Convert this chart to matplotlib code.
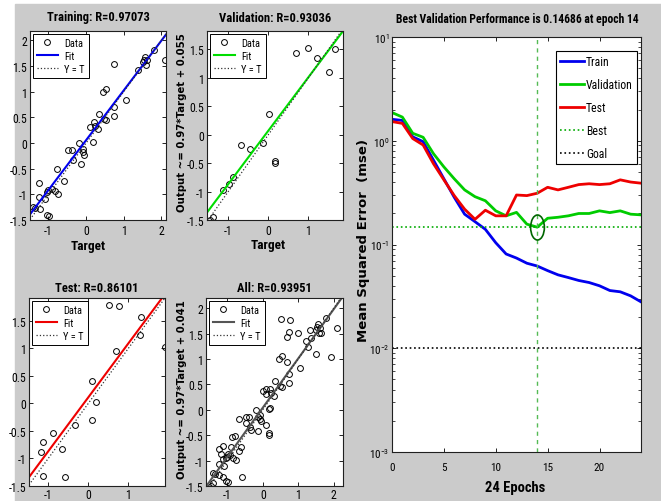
# Графики регрессии и производительности обучения сети (в стиле MATLAB)
import numpy as np
import matplotlib.pyplot as plt
from matplotlib import font_manager
from matplotlib.font_manager import FontProperties
from matplotlib.path import Path
from matplotlib.transforms import Affine2D


def _weight(w):
    if isinstance(w, str):
        return font_manager.weight_dict.get(w, 400)
    return w


def _is_narrow(f):
    st = f.stretch
    if 'Narrow' in f.name or 'Condensed' in f.name:
        return True
    return (isinstance(st, int) and st < 500) or st in ('condensed', 'semi-condensed',
                                                        'extra-condensed')


PREF = ['Liberation Sans Narrow', 'Arial Narrow', 'Roboto Condensed', 'Open Sans Condensed',
        'Noto Sans Condensed', 'Noto Sans', 'DejaVu Sans']


def _rank(f):
    for i, p in enumerate(PREF):
        if f.name.startswith(p):
            return i
    return len(PREF)


# Поиск файла узкого шрифта нужной насыщенности
def find_narrow(bold):
    cands = []
    for f in font_manager.fontManager.ttflist:
        if not _is_narrow(f) or f.style != 'normal':
            continue
        w = _weight(f.weight)
        if bold and not (600 <= w <= 750):
            continue
        if not bold and not (380 <= w <= 450):
            continue
        cands.append(f)
    if not cands:
        return None
    cands.sort(key=_rank)
    return cands[0].fname


NARROW_R = find_narrow(False)
NARROW_B = find_narrow(True)


def nfont(size):
    if NARROW_R:
        return FontProperties(fname=NARROW_R, size=size)
    return FontProperties(family='Liberation Sans', size=size * 0.8)


def bfont(size):
    if NARROW_B:
        return FontProperties(fname=NARROW_B, size=size)
    return FontProperties(family='Liberation Sans', size=size * 0.76, weight='bold')


# Данные: обучающая выборка
train_target = [-1.40, -1.36, -1.24, -1.24, -1.22, -1.09, -1.05, -1.00, -1.05, -0.99,
                -0.91, -0.83, -0.76, -0.78, -0.60, -0.47, -0.38, -0.36, -0.19, -0.13,
                -0.09, -0.05, -0.07, 0.18, 0.09, 0.21, 0.24, 0.31, 0.34, 0.48,
                0.46, 0.53, 0.53, 0.73, 0.74, 0.74, 1.06, 1.37, 1.50, 1.54,
                1.55, 1.59, 1.61, 1.79, 2.09]
train_output = [-1.25, -1.27, -0.78, -1.06, -1.28, -1.10, -0.95, -0.92, -1.41, -1.42,
                -0.89, -0.94, -0.99, -0.51, -0.74, -0.14, -0.14, -0.33, 0.00, -0.41,
                -0.18, -0.23, -0.11, 0.02, 0.31, 0.40, 0.34, 0.28, 0.56, 0.47,
                0.99, 1.05, 0.44, 0.53, 0.70, 1.53, 0.83, 1.42, 1.58, 1.62,
                1.68, 1.51, 1.61, 1.81, 1.61]

# Проверочная выборка
val_target = [-1.45, -1.39, -1.13, -0.97, -0.89, -0.68, -0.47, -0.13, 0.02, 0.17,
              0.17, 0.69, 0.99, 1.21, 1.51, 1.65]
val_output = [-1.50, -1.44, -0.97, -0.87, -0.74, -0.18, -0.26, -0.14, 0.36, -0.46,
              -0.50, 1.44, 1.52, 1.35, 1.10, 1.51]

# Тестовая выборка
test_target = [-1.18, -1.12, -1.13, -0.88, -0.66, -0.59, -0.33, 0.10, 0.10, 0.20,
               0.52, 0.77, 0.68, 1.28, 1.32, 1.92]
test_output = [-0.88, -0.71, -1.32, -0.53, -0.82, -1.33, -0.39, 0.41, -0.30, 0.03,
               1.78, 1.77, 0.95, 1.24, 1.57, 1.03]

# Все данные
all_target = train_target + val_target + test_target
all_output = train_output + val_output + test_output

# Коэффициенты линий регрессии (наклон, смещение)
fit_train = (0.97, 0.055)
fit_val = (0.94, 0.07)
fit_test = (0.98, 0.11)
fit_all = (0.97, 0.041)

# Производительность по эпохам
epochs = list(range(25))
perf_train = [1.61, 1.57, 1.09, 0.98, 0.65, 0.43, 0.285, 0.196, 0.166, 0.14,
              0.104, 0.081, 0.074, 0.066, 0.062, 0.056, 0.051, 0.048, 0.045, 0.043,
              0.040, 0.036, 0.035, 0.032, 0.028]
perf_val = [1.87, 1.69, 1.18, 1.08, 0.75, 0.56, 0.43, 0.336, 0.289, 0.264,
            0.211, 0.189, 0.204, 0.157, 0.14686, 0.179, 0.183, 0.189, 0.199, 0.199,
            0.211, 0.203, 0.211, 0.196, 0.193]
perf_test = [1.53, 1.47, 1.05, 0.91, 0.60, 0.42, 0.296, 0.219, 0.175, 0.214,
             0.189, 0.189, 0.30, 0.296, 0.312, 0.356, 0.336, 0.356, 0.378, 0.385,
             0.378, 0.385, 0.42, 0.40, 0.39]
best_epoch = 14
best_perf = 0.14686
goal = 0.01

W, H = 661, 502
GRAY = '#cbcbcb'


def box(x0, y0, x1, y1):
    # пиксели -> доли фигуры
    return [x0 / W, 1 - y1 / H, (x1 - x0) / W, (y1 - y0) / H]


def style_ticks(ax, size=8.5, xpad=3, ypad=2):
    ax.tick_params(direction='in', top=True, right=True, length=3, width=0.6)
    ax.tick_params(axis='x', pad=xpad)
    ax.tick_params(axis='y', pad=ypad)
    for lab in ax.get_xticklabels() + ax.get_yticklabels():
        lab.set_fontproperties(nfont(size))
    for s in ax.spines.values():
        s.set_linewidth(0.8)
        s.set_color('#202020')


def num(v):
    return ('%g' % v)


def plot_regression(ax, target, output, fit, color, xlim, ylim, xticks, yticks, xpad=3):
    ax.plot(target, output, 'o', mfc='none', mec='k', ms=4.2, mew=0.7, label='Data')
    xs = np.array(xlim)
    ax.plot(xs, fit[0] * xs + fit[1], color=color, lw=1.5, label='Fit')
    ax.plot(xs, xs, ':', color='#333333', lw=0.9, label='Y = T')
    ax.set_xlim(xlim)
    ax.set_ylim(ylim)
    ax.set_xticks(xticks)
    ax.set_xticklabels([num(t) for t in xticks])
    ax.set_yticks(yticks)
    ax.set_yticklabels([num(t) for t in yticks])
    style_ticks(ax, xpad=xpad)
    leg = ax.legend(loc='upper left', prop=nfont(7.5),
                    fancybox=False, edgecolor='k', framealpha=1,
                    handlelength=2.0, borderpad=0.4, labelspacing=0.3,
                    handletextpad=0.6, borderaxespad=0.25)
    leg.get_frame().set_linewidth(0.7)


fig = plt.figure(figsize=(W / 100, H / 100), dpi=100)
fig.patch.set_facecolor('white')
fig.add_artist(plt.Rectangle((15 / W, 0), 1 - 15 / W, 1 - 5 / H,
                             transform=fig.transFigure, color=GRAY, zorder=-10))

yt_full = [-1.5, -1, -0.5, 0, 0.5, 1, 1.5, 2]
yt_short = [-1.5, -1, -0.5, 0, 0.5, 1, 1.5]

ax1 = fig.add_axes(box(30, 32, 166, 221))
plot_regression(ax1, train_target, train_output, fit_train, '#0000ee',
                (-1.49, 2.12), (-1.5, 2.18), [-1, 0, 1, 2], yt_full)
ax2 = fig.add_axes(box(207, 32, 343, 221))
plot_regression(ax2, val_target, val_output, fit_val, '#00dd00',
                (-1.53, 1.86), (-1.5, 1.82), [-1, 0, 1], yt_short)
ax3 = fig.add_axes(box(29, 299, 165, 487))
plot_regression(ax3, test_target, test_output, fit_test, '#ee0000',
                (-1.48, 1.91), (-1.5, 1.91), [-1, 0, 1], yt_short, xpad=1.5)
ax4 = fig.add_axes(box(206, 299, 343, 487))
plot_regression(ax4, all_target, all_output, fit_all, '#555555',
                (-1.6, 2.26), (-1.5, 2.2), [-1, 0, 1, 2], yt_full, xpad=1.5)

# Заголовки и подписи осей
tkw = dict(ha='center', va='center')
fig.text(98 / W, 1 - 18 / H, 'Training: R=0.97073', fontproperties=bfont(9), **tkw)
fig.text(275 / W, 1 - 18 / H, 'Validation: R=0.93036', fontproperties=bfont(9), **tkw)
fig.text(97 / W, 1 - 289 / H, 'Test: R=0.86101', fontproperties=bfont(9), **tkw)
fig.text(274 / W, 1 - 289 / H, 'All: R=0.93951', fontproperties=bfont(9), **tkw)
fig.text(88 / W, 1 - 247 / H, 'Target', fontproperties=bfont(9.5), **tkw)
fig.text(268 / W, 1 - 246 / H, 'Target', fontproperties=bfont(9.5), **tkw)
ykw = dict(family='DejaVu Sans', weight='bold', size=7.3, ha='center', va='center',
           rotation=90)
fig.text(182 / W, 1 - 123 / H, 'Output ~= 0.97*Target + 0.055', **ykw)
fig.text(182 / W, 1 - 390 / H, 'Output ~= 0.97*Target + 0.041', **ykw)

# График производительности
ax5 = fig.add_axes(box(392, 38, 641, 453))
ax5.semilogy(epochs, perf_train, color='#0000ee', lw=2, label='Train')
ax5.semilogy(epochs, perf_val, color='#00cc00', lw=2, label='Validation')
ax5.semilogy(epochs, perf_test, color='#ee0000', lw=2, label='Test')
ax5.axhline(best_perf, color='#00aa00', ls=':', lw=1.2, label='Best')
ax5.axvline(best_epoch, color='#55bb55', ls=(0, (3, 3)), lw=1.0)
ax5.axhline(goal, color='k', ls=':', lw=1.2, label='Goal')
ell = Path.unit_circle().transformed(Affine2D().scale(0.55, 1.0))
ax5.plot([best_epoch], [best_perf], marker=ell, ms=18, mfc='none', mec='#006600',
         mew=1.2)
ax5.set_xlim(0, 24)
ax5.set_ylim(1e-3, 1e1)
ax5.set_xticks([0, 5, 10, 15, 20])
style_ticks(ax5, size=8, xpad=7, ypad=2)
ax5.tick_params(which='minor', direction='in', right=True, length=2, width=0.5)
leg = ax5.legend(loc='upper right', prop=nfont(8.5),
                 fancybox=False, edgecolor='k', framealpha=1,
                 handlelength=2.0, borderpad=0.35, labelspacing=0.85,
                 handletextpad=0.2, borderaxespad=0.0,
                 bbox_to_anchor=(637 / W, 1 - 52 / H),
                 bbox_transform=fig.transFigure)
leg.get_frame().set_linewidth(0.8)
fig.text(517 / W, 1 - 20 / H, 'Best Validation Performance is 0.14686 at epoch 14',
         fontproperties=bfont(8.4), ha='center', va='center')
fig.text(515 / W, 1 - 488 / H, '24 Epochs', fontproperties=bfont(10.5),
         ha='center', va='center')
fig.text(363 / W, 1 - 240 / H, 'Mean Squared Error  (mse)', family='DejaVu Sans',
         weight='bold', size=9.5, ha='center', va='center', rotation=90)

fig.savefig('out.png', dpi=100)
